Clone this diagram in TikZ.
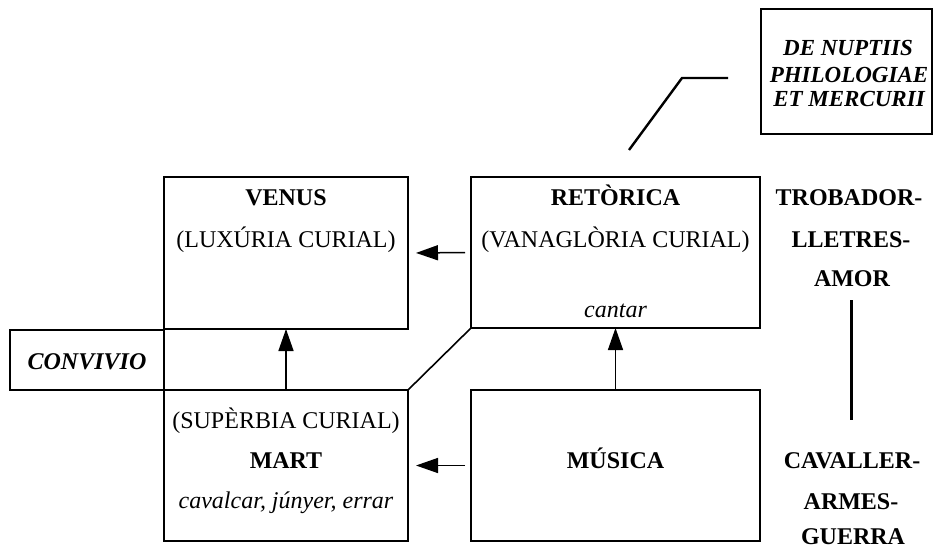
\documentclass[tikz,border=0pt]{standalone}
\usepackage{fontspec}
\setmainfont{Liberation Serif}
\usetikzlibrary{arrows.meta}
\begin{document}
\begin{tikzpicture}[x=1pt,y=-1pt,
  box/.style={draw, line width=1.6pt, inner sep=0pt, outer sep=0pt},
  txt/.style={anchor=base, inner sep=0pt, font=\fontsize{24}{28}\selectfont},
  btxt/.style={txt, font=\fontsize{24}{28}\selectfont\bfseries},
  itxt/.style={txt, font=\fontsize{24}{28}\selectfont\itshape},
  bitxt/.style={txt, font=\fontsize{24}{28}\selectfont\bfseries\itshape},
  nptxt/.style={txt, font=\fontsize{23}{28}\selectfont\bfseries\itshape},
  arr/.style={line width=1.5pt, -{Triangle[length=22pt,width=15pt]}},
  link/.style={line width=2.4pt}]
\useasboundingbox (0,0) rectangle (938,549);
% boxes
\node[box, minimum width=244pt, minimum height=152pt] (venus) at (286,253) {};
\node[box, minimum width=244pt, minimum height=151pt] (mart) at (286,465.5) {};
\node[box, minimum width=289pt, minimum height=151pt] (retorica) at (615.5,252.5) {};
\node[box, minimum width=289pt, minimum height=151pt] (musica) at (615.5,465.5) {};
\node[box, minimum width=154pt, minimum height=60pt] (convivio) at (87,360) {};
\node[box, line width=2.6pt, minimum width=171pt, minimum height=125pt] (nuptiis) at (846.5,71.5) {};
% texts
\node[btxt] (tvenus) at (286,205) {VENUS};
\node[txt] (tlux) at (286,247) {(LUXÚRIA CURIAL)};
\node[btxt] (tret) at (615.5,205) {RETÒRICA};
\node[txt] (tvana) at (615.5,247) {(VANAGLÒRIA CURIAL)};
\node[itxt] (tcantar) at (615.5,317) {cantar};
\node[bitxt] (tconv) at (87,369) {CONVIVIO};
\node[txt] (tsup) at (286,428) {(SUPÈRBIA CURIAL)};
\node[btxt] (tmart) at (286,468) {MART};
\node[itxt] (tcav) at (286,508) {cavalcar, júnyer, errar};
\node[btxt] (tmus) at (615.5,468) {MÚSICA};
\node[nptxt] (tn1) at (848,55) {DE NUPTIIS};
\node[nptxt] (tn2) at (849,82) {PHILOLOGIAE};
\node[nptxt] (tn3) at (849,106) {ET MERCURII};
\node[btxt] (r1) at (849,205) {TROBADOR-};
\node[btxt] (r2) at (851,247) {LLETRES-};
\node[btxt] (r3) at (852,286) {AMOR};
\node[btxt] (r4) at (852,468) {CAVALLER-};
\node[btxt] (r5) at (851,509) {ARMES-};
\node[btxt] (r6) at (853,544) {GUERRA};
% connectors
\draw[arr, shorten <=6pt, shorten >=8pt] (retorica.west) -- (venus.east);
\draw[arr, shorten <=6pt, shorten >=8pt] (musica.west) -- (mart.east);
\draw[arr] (mart.north) -- (venus.south);
\draw[arr] (musica.north) -- (retorica.south);
\draw[line width=1.6pt] (mart.north east) -- (retorica.south west);
\coordinate (n0) at (629,150);
\coordinate (n1) at (682,78);
\coordinate (n2) at (728,78);
\draw[link] (n0) -- (n1) -- (n2);
\coordinate (v0) at (851,300);
\coordinate (v1) at (851,420);
\draw[line width=3pt] (v0) -- (v1);
\end{tikzpicture}
\end{document}
